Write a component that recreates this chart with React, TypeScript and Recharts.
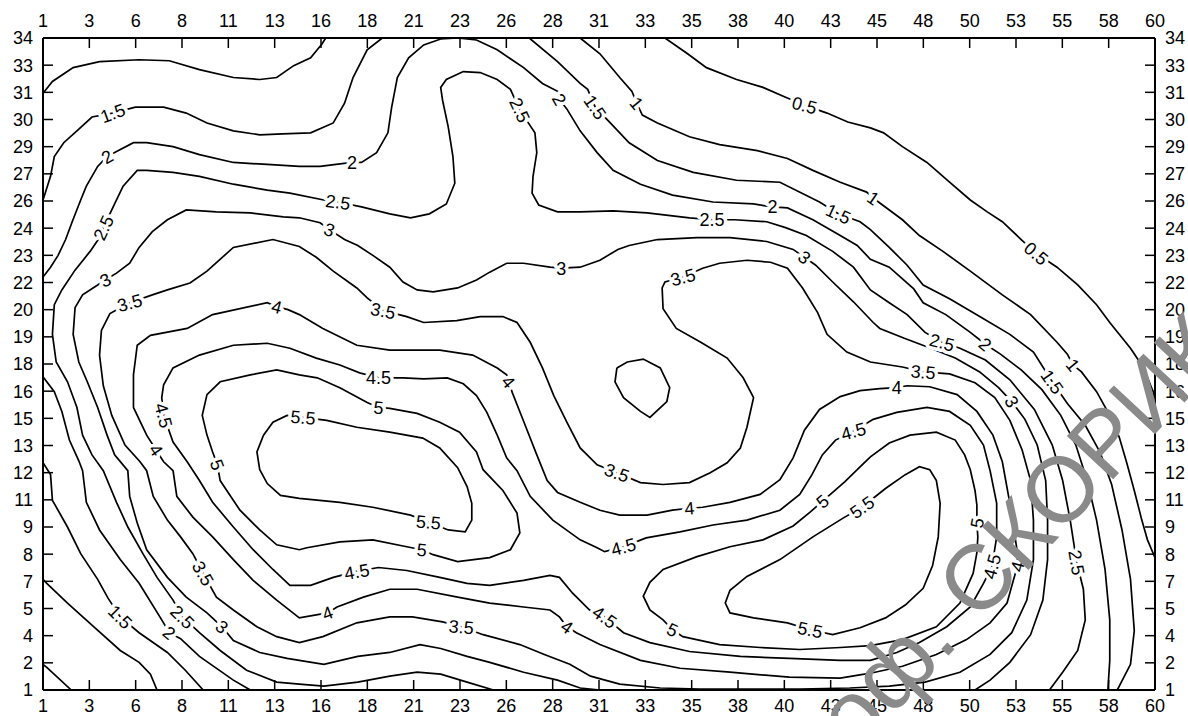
import { ScatterChart, Scatter, XAxis, YAxis } from 'recharts';

type P = [number, number];

// axis tick labels (25 evenly spaced ticks on each axis, rounded values)
const xTickLabels = ['1', '3', '6', '8', '11', '13', '16', '18', '21', '23', '26', '28', '31', '33', '35', '38', '40', '43', '45', '48', '50', '53', '55', '58', '60'];
const yTickLabels = ['1', '2', '4', '5', '7', '8', '9', '11', '12', '13', '15', '16', '18', '19', '20', '22', '23', '24', '26', '27', '29', '30', '31', '33', '34'];

// contour lines as (x, y) points
const c05Top: P[] = [[34.0, 34], [35.2, 33.2], [36.2, 32.5], [37.8, 31.9], [39.2, 31.5], [40.4, 31.0], [41.4, 30.6], [42.6, 30.2], [43.7, 29.75], [44.9, 29.45], [45.6, 29.2], [46.6, 28.5], [47.9, 27.7], [49.1, 26.7], [50.2, 25.8], [51.1, 25.2], [51.9, 24.7], [52.9, 23.8], [53.7, 23.1], [54.8, 22.4], [55.9, 21.5], [56.9, 20.5], [57.6, 19.6], [58.7, 18.3], [59.4, 17.3], [59.9, 16.1], [60, 15.4]];
const c05Corner: P[] = [[1, 2.3], [1.2, 2.15], [2.5, 1]];

const c1TopLeft: P[] = [[1, 31.2], [1.5, 31.8], [2.6, 32.5], [4.0, 32.8], [6.1, 32.9], [7.7, 32.85], [9.3, 32.4], [11.1, 32.0], [12.5, 31.9], [13.4, 32.0], [14.3, 32.6], [15.2, 33.0], [15.8, 33.7], [16.0, 34]];
const c1Right: P[] = [[29.5, 34], [30.55, 33.2], [31.6, 32.0], [32.25, 31.3], [32.5, 30.7], [32.8, 30.1], [33.6, 29.7], [35.3, 29.0], [36.9, 28.6], [38.9, 28.3], [40.5, 27.9], [41.85, 27.3], [43.3, 26.7], [44.7, 26.2], [45.05, 25.9], [45.4, 25.65], [46.6, 24.8], [47.5, 24.0], [48.75, 23.2], [50.2, 22.2], [51.9, 21.0], [53.4, 20.0], [54.8, 18.6], [55.35, 18.0], [55.65, 17.45], [56.1, 17.1], [56.9, 16.1], [57.6, 14.9], [58.1, 13.8], [58.5, 12.5], [58.9, 11.1], [59.3, 9.6], [59.6, 8.6], [60, 7.7]];
const c1BottomLeft: P[] = [[1, 6.6], [1.2, 6.4], [2.3, 5.4], [3.7, 4.2], [5.1, 3.0], [6.1, 2.4], [6.7, 1.8], [7.05, 1]];

const c15TopLeft: P[] = [[1, 25.8], [1.4, 27.0], [1.6, 28.0], [2.1, 28.7], [2.8, 29.3], [3.6, 30.0], [4.7, 30.2], [5.9, 30.5], [7.4, 30.5], [8.6, 30.2], [9.7, 29.7], [11.1, 29.3], [12.5, 29.1], [13.7, 29.15], [15.2, 29.2], [16.4, 29.7], [17.0, 30.7], [17.45, 32.0], [18.2, 33.4], [19.0, 34]];
const c15Right: P[] = [[26.8, 34], [28.3, 32.8], [29.5, 31.7], [29.9, 31.4], [30.3, 30.5], [31.2, 29.6], [32.1, 28.7], [33.6, 27.8], [35.5, 27.2], [37.8, 26.8], [40.1, 26.7], [42.2, 25.7], [43.2, 25.1], [44.35, 24.7], [44.9, 24.3], [45.9, 23.4], [46.85, 22.5], [47.7, 21.5], [49.1, 20.8], [50.7, 19.9], [52.3, 19.0], [53.55, 18.1], [54.55, 16.6], [55.35, 15.5], [56.3, 14.4], [57.1, 13.0], [57.7, 11.4], [58.25, 9.1], [58.7, 6.6], [58.9, 4.0], [58.7, 2.3], [58.0, 1]];
const c15BottomLeft: P[] = [[1, 12.5], [1.4, 11.9], [1.5, 10.6], [2.3, 9.25], [3.0, 7.9], [3.9, 6.6], [4.45, 5.65], [5.1, 4.7], [6.1, 3.9], [7.6, 2.9], [8.55, 2.0], [9.5, 1]];

const c2Main: P[] = [[1, 21.9], [1.4, 22.4], [1.8, 23.0], [2.2, 23.8], [2.55, 24.7], [3.0, 25.8], [3.3, 26.5], [3.9, 27.5], [4.4, 28.0], [4.8, 28.2], [5.8, 28.7], [6.5, 28.7], [7.9, 28.5], [9.3, 28.1], [11.1, 27.7], [12.9, 27.6], [14.6, 27.5], [15.7, 27.5], [17.4, 27.7], [17.9, 27.7], [18.7, 28.2], [19.3, 29.2], [19.5, 30.5], [19.8, 32.0], [20.4, 33.0], [21.2, 33.65], [22.1, 33.95], [23.0, 34], [24.0, 33.9], [25.1, 33.4], [26.5, 32.5], [27.5, 31.7], [28.3, 31.3], [28.4, 30.9], [28.8, 30.4], [29.5, 29.3], [30.4, 28.2], [31.25, 27.3], [32.7, 26.6], [34.4, 26.05], [36.55, 25.7], [38.7, 25.6], [39.7, 25.45], [40.5, 25.4], [41.85, 24.8], [43.3, 24.0], [44.2, 23.5], [44.9, 22.8], [45.9, 22.4], [47.2, 21.3], [47.7, 20.6], [48.9, 20.0], [50.2, 19.1], [51.0, 18.5], [51.8, 18.0], [52.9, 17.2], [54.0, 16.2], [55.0, 14.9], [55.8, 13.4], [56.4, 11.6], [56.9, 9.6], [57.35, 7.1], [57.6, 4.55], [57.6, 2.5], [57.5, 1]];
const c2BottomLeft: P[] = [[1, 16.85], [1.6, 16.1], [2.0, 15.1], [2.4, 13.65], [2.9, 12.6], [3.1, 12.1], [3.3, 10.5], [4.0, 9.1], [5.1, 7.6], [6.1, 6.4], [7.3, 4.55], [7.7, 3.9], [8.3, 3.6], [9.3, 2.7], [11.1, 1.5], [12.0, 1]];

const c25Main: P[] = [[24.9, 1], [23.5, 1.4], [22.1, 1.8], [20.85, 1.9], [19.4, 1.7], [17.7, 1.4], [15.9, 1.2], [14.6, 1.3], [13.4, 1.4], [11.8, 2.0], [10.4, 3.0], [9.3, 3.9], [8.4, 4.7], [7.9, 5.55], [7.05, 6.7], [6.3, 7.9], [5.5, 9.25], [4.9, 10.5], [4.2, 12.1], [3.6, 12.9], [3.1, 13.9], [2.8, 15.3], [2.3, 16.6], [1.7, 17.6], [1.5, 19.0], [1.6, 20.5], [2.0, 21.25], [2.7, 22.25], [3.5, 23.2], [4.0, 23.9], [4.2, 24.4], [4.8, 25.6], [5.25, 26.5], [6.0, 27.3], [6.5, 27.3], [7.9, 27.2], [9.3, 27.0], [11.1, 26.6], [12.9, 26.3], [14.1, 26.15], [15.9, 25.8], [16.65, 25.7], [17.9, 25.45], [19.4, 25.1], [20.5, 24.9], [21.5, 25.1], [22.4, 25.6], [22.85, 26.65], [22.75, 28.0], [22.5, 29.5], [22.2, 30.85], [22.1, 31.5], [22.4, 31.9], [23.3, 32.3], [24.2, 32.25], [25.1, 31.9], [25.8, 31.4], [26.3, 30.35], [27.1, 29.2], [27.2, 28.2], [27.0, 27.0], [26.95, 26.15], [27.3, 25.55], [28.3, 25.2], [29.5, 25.2], [31.25, 25.25], [33.05, 25.15], [35.3, 24.9], [36.5, 24.8], [37.7, 24.8], [39.4, 24.7], [40.4, 24.4], [41.5, 24.0], [42.9, 23.2], [44.0, 22.4], [44.9, 21.25], [45.9, 20.6], [46.85, 20.0], [47.8, 19.1], [48.7, 18.6], [49.65, 18.3], [51.0, 17.7], [52.3, 16.7], [53.6, 15.2], [54.55, 13.4], [55.1, 11.6], [55.5, 9.6], [55.85, 7.45], [56.2, 6.1], [56.3, 4.55], [55.9, 3.0], [55.1, 1.9], [54.4, 1]];

const c3Main: P[] = [[30.55, 1], [29.5, 1.1], [28.3, 1.5], [26.5, 1.9], [24.7, 2.4], [23.5, 2.7], [22.1, 3.1], [21.0, 3.3], [19.4, 2.9], [17.7, 2.7], [15.9, 2.3], [14.6, 2.5], [13.95, 2.6], [12.5, 2.9], [11.1, 3.5], [10.5, 4.2], [9.7, 4.9], [8.6, 5.7], [7.6, 6.7], [6.5, 8.1], [6.0, 9.45], [5.6, 10.8], [5.5, 12.1], [4.8, 12.9], [4.4, 13.9], [3.9, 15.3], [3.35, 16.6], [2.9, 17.6], [2.6, 19.0], [2.7, 20.35], [3.1, 21.0], [3.9, 21.5], [4.3, 21.75], [4.9, 22.1], [5.6, 22.6], [6.1, 23.4], [6.8, 24.2], [7.6, 24.8], [8.6, 25.3], [10.2, 25.2], [12.0, 25.15], [13.75, 24.95], [14.6, 24.9], [15.7, 24.65], [16.2, 24.3], [17.0, 23.8], [17.7, 23.5], [18.5, 23.0], [19.4, 22.4], [20.1, 21.65], [20.85, 21.25], [21.7, 21.15], [23.0, 21.35], [24.0, 21.75], [24.7, 22.15], [25.6, 22.6], [26.5, 22.6], [27.9, 22.4], [28.5, 22.35], [29.5, 22.4], [30.55, 22.75], [31.5, 23.3], [32.1, 23.5], [33.6, 23.8], [35.7, 23.9], [37.45, 23.9], [39.4, 23.7], [40.8, 23.3], [41.4, 22.9], [42.0, 22.5], [42.9, 21.65], [44.0, 20.65], [45.05, 19.6], [45.4, 19.3], [46.7, 18.8], [48.1, 18.3], [49.4, 17.8], [50.7, 17.1], [51.7, 16.3], [52.4, 15.6], [53.1, 14.7], [53.75, 13.4], [54.2, 11.6], [54.3, 9.6], [54.3, 7.6], [54.05, 5.55], [53.4, 3.8], [52.3, 2.4], [51.25, 1.5], [50.45, 1]];

const c35Loop: P[] = [[5.6, 20.6], [6.8, 21.0], [7.6, 21.25], [8.8, 21.6], [9.7, 22.2], [11.1, 23.4], [13.2, 23.8], [14.6, 23.45], [15.5, 22.9], [16.4, 22.2], [17.65, 21.35], [18.2, 20.85], [19.05, 20.2], [20.3, 19.9], [21.2, 19.6], [22.95, 19.7], [24.2, 19.9], [25.4, 19.9], [26.15, 19.6], [26.85, 18.6], [27.5, 17.3], [28.1, 15.9], [28.8, 14.55], [29.5, 13.25], [30.4, 12.4], [31.45, 12.0], [32.7, 11.5], [33.9, 11.4], [35.3, 11.5], [36.4, 12.0], [37.3, 12.5], [38.0, 13.25], [38.35, 14.3], [38.7, 15.8], [38.15, 16.8], [37.3, 17.8], [35.9, 18.6], [34.6, 19.3], [33.9, 20.3], [33.85, 21.35], [34.0, 21.65], [34.95, 21.9], [36.0, 22.35], [36.9, 22.6], [38.35, 22.75], [39.6, 22.65], [40.5, 22.35], [41.3, 21.35], [42.1, 20.1], [42.6, 19.0], [43.65, 18.1], [44.9, 17.6], [46.6, 17.35], [47.7, 17.1], [49.1, 17.0], [50.45, 16.55], [51.5, 15.8], [52.3, 14.65], [52.95, 13.15], [53.4, 11.6], [53.55, 9.6], [53.55, 7.6], [53.2, 5.55], [52.4, 3.9], [51.25, 2.8], [49.65, 1.9], [47.8, 1.4], [45.9, 1.2], [43.8, 1.1], [41.15, 1.05], [38.5, 1.05], [35.85, 1.05], [33.75, 1.1], [31.6, 1.3], [30.05, 1.7], [28.95, 2.3], [27.6, 2.8], [26.3, 3.3], [24.35, 3.8], [23.2, 4.2], [22.2, 4.45], [20.6, 4.7], [19.4, 4.7], [17.65, 4.4], [15.85, 3.7], [14.6, 3.4], [13.4, 3.7], [12.35, 4.2], [11.1, 5.05], [10.2, 5.7], [9.5, 6.9], [8.95, 7.9], [8.3, 8.75], [7.6, 9.6], [6.85, 10.8], [6.5, 12.1], [6.15, 12.55], [5.35, 13.4], [4.65, 14.9], [4.2, 16.4], [4.0, 17.95], [4.1, 19.2], [4.55, 20.05], [5.6, 20.6]];

const c4Loop: P[] = [[13.4, 20.4], [14.0, 20.25], [14.6, 20.0], [15.85, 19.3], [17.65, 18.45], [19.4, 18.2], [22.05, 18.2], [23.8, 17.95], [25.1, 17.3], [25.6, 16.95], [25.7, 16.6], [25.9, 16.05], [26.5, 14.6], [27.2, 12.9], [27.75, 11.6], [28.3, 11.0], [29.5, 10.5], [30.55, 10.1], [31.6, 9.85], [33.05, 9.85], [34.4, 10.1], [35.3, 10.2], [36.0, 10.25], [37.45, 10.5], [39.05, 10.9], [40.1, 11.65], [40.8, 12.75], [41.4, 14.15], [42.2, 15.2], [43.3, 15.85], [44.35, 16.15], [45.4, 16.25], [46.3, 16.3], [46.85, 16.4], [48.05, 16.35], [49.5, 15.95], [50.55, 15.1], [51.4, 13.9], [51.9, 12.55], [52.3, 10.45], [52.7, 7.95], [52.7, 7.25], [52.5, 6.6], [52.15, 5.4], [51.25, 4.4], [50.0, 3.55], [48.4, 2.8], [46.6, 2.2], [44.9, 1.85], [43.3, 1.6], [40.6, 1.65], [37.45, 1.9], [34.8, 2.1], [32.7, 2.5], [30.55, 3.3], [29.3, 3.9], [28.8, 4.2], [28.4, 4.7], [27.9, 5.05], [26.5, 5.2], [24.7, 5.4], [23.0, 5.7], [20.85, 6.1], [19.4, 6.1], [18.0, 5.7], [16.6, 5.2], [16.1, 4.9], [14.6, 4.65], [13.4, 5.55], [12.15, 6.55], [11.1, 7.6], [10.0, 8.75], [8.95, 9.75], [8.1, 10.8], [7.9, 12.1], [7.4, 12.55], [7.0, 13.15], [6.5, 13.9], [5.8, 15.3], [5.8, 16.95], [6.0, 18.45], [6.7, 18.95], [8.65, 19.3], [10.0, 20.0], [12.9, 20.6], [13.4, 20.4]];

const c45Loop: P[] = [[7.4, 14.9], [7.9, 13.55], [8.65, 12.55], [9.3, 11.6], [10.0, 10.5], [11.1, 9.25], [12.15, 8.1], [13.2, 7.1], [14.1, 6.3], [15.2, 6.3], [16.4, 6.7], [17.65, 7.0], [18.8, 7.2], [20.3, 7.05], [22.05, 6.7], [23.5, 6.4], [24.7, 6.3], [26.5, 6.55], [27.9, 6.8], [28.4, 6.7], [29.1, 5.9], [30.0, 5.05], [30.8, 4.7], [31.8, 3.9], [33.2, 3.4], [35.3, 2.95], [38.0, 2.7], [40.6, 2.6], [43.3, 2.5], [44.9, 2.5], [46.3, 2.9], [47.5, 3.4], [48.95, 4.2], [50.2, 5.2], [50.9, 6.4], [51.35, 7.25], [51.6, 8.75], [51.6, 10.45], [51.25, 12.1], [50.9, 13.4], [50.2, 14.4], [49.1, 15.1], [47.9, 15.3], [46.3, 15.05], [45.05, 14.7], [44.0, 14.1], [43.05, 13.65], [42.35, 12.9], [41.8, 11.9], [41.15, 10.9], [40.1, 10.1], [38.35, 9.6], [36.55, 9.35], [34.8, 9.0], [33.0, 8.7], [31.8, 8.25], [30.8, 8.0], [30.4, 8.2], [29.5, 8.6], [28.05, 9.6], [26.85, 10.8], [26.15, 12.1], [25.6, 12.75], [25.1, 13.9], [24.55, 15.05], [24.0, 15.9], [23.3, 16.5], [22.45, 16.8], [21.2, 16.75], [20.1, 16.8], [18.8, 16.8], [17.8, 17.05], [16.75, 17.45], [15.5, 17.8], [14.1, 18.3], [12.9, 18.55], [11.1, 18.45], [9.3, 17.95], [7.9, 17.3], [7.4, 16.45], [7.3, 15.8], [7.4, 14.9]];

const c5Left: P[] = [[10.25, 12.4], [10.4, 11.6], [10.75, 11.1], [11.45, 10.1], [12.5, 9.1], [13.4, 8.35], [14.6, 8.1], [15.0, 8.2], [16.75, 8.5], [18.5, 8.6], [20.3, 8.25], [21.1, 8.1], [21.7, 7.85], [23.0, 7.5], [24.7, 7.7], [25.8, 8.1], [26.3, 8.95], [26.15, 9.95], [25.4, 11.1], [24.35, 12.15], [24.0, 13.05], [23.1, 14.05], [22.05, 14.55], [20.85, 15.0], [19.4, 15.25], [18.8, 15.3], [18.2, 15.55], [16.75, 16.3], [15.55, 16.8], [14.6, 16.95], [13.4, 17.2], [12.0, 16.95], [10.4, 16.6], [9.7, 15.95], [9.45, 14.9], [9.7, 13.9], [10.0, 13.05], [10.25, 12.4]];
const c55Left: P[] = [[14.8, 14.8], [16.05, 14.65], [17.65, 14.3], [19.4, 14.05], [21.15, 13.75], [22.05, 13.25], [23.0, 12.25], [23.5, 11.3], [23.75, 10.45], [23.75, 9.6], [23.4, 9.0], [22.5, 9.1], [21.45, 9.5], [20.5, 9.85], [18.5, 10.25], [16.75, 10.5], [14.6, 10.7], [13.6, 10.85], [12.9, 11.45], [12.5, 12.15], [12.35, 13.05], [12.7, 13.9], [13.2, 14.55], [13.95, 14.9], [14.8, 14.8]];

const c5Right: P[] = [[34.4, 4.05], [34.95, 3.7], [36.9, 3.3], [39.05, 3.15], [41.15, 3.05], [43.3, 3.15], [44.9, 3.25], [46.6, 3.55], [48.4, 4.2], [49.65, 5.4], [50.35, 6.9], [50.55, 7.95], [50.6, 8.75], [50.55, 9.45], [50.55, 10.35], [50.45, 11.1], [50.2, 12.15], [49.9, 12.9], [49.4, 13.65], [48.4, 14.05], [47.0, 13.9], [45.9, 13.5], [44.9, 12.8], [44.2, 12.15], [43.55, 11.55], [42.35, 10.55], [41.7, 10.0], [40.8, 9.3], [39.2, 8.6], [37.45, 8.25], [35.7, 7.75], [33.9, 7.1], [33.2, 6.45], [32.85, 5.75], [33.2, 5.05], [33.9, 4.55], [34.4, 4.05]];
const c55Right: P[] = [[41.7, 4.05], [42.9, 3.8], [44.35, 4.15], [45.7, 4.65], [46.75, 5.3], [47.7, 6.15], [48.2, 7.3], [48.5, 8.75], [48.6, 10.45], [48.4, 11.6], [48.05, 12.15], [47.5, 12.3], [46.75, 11.9], [45.7, 11.2], [44.45, 10.25], [43.45, 9.7], [41.85, 8.75], [40.1, 7.6], [38.35, 6.75], [37.45, 6.05], [37.2, 5.4], [37.45, 4.9], [38.7, 4.65], [40.5, 4.4], [41.7, 4.05]];

const cSmallLoop: P[] = [[31.45, 17.3], [32.0, 17.6], [32.85, 17.75], [33.75, 17.3], [34.25, 16.3], [34.1, 15.6], [33.2, 14.8], [32.7, 15.1], [31.8, 15.8], [31.35, 16.6], [31.45, 17.3]];

const contourLines: P[][] = [c05Top, c05Corner, c1TopLeft, c1Right, c1BottomLeft, c15TopLeft, c15Right, c15BottomLeft, c2Main, c2BottomLeft, c25Main, c3Main, c35Loop, c4Loop, c45Loop, c5Left, c55Left, c5Right, c55Right, cSmallLoop];

// inline contour labels: x, y, text
const contourLabels: [number, number, string][] = [
  [4.7, 30.2, '1.5'], [4.4, 28.0, '2'], [4.2, 24.4, '2.5'], [4.3, 21.75, '3'], [5.6, 20.6, '3.5'], [13.4, 20.4, '4'], [7.4, 14.9, '4.5'], [7.0, 13.15, '4'], [10.25, 12.4, '5'], [14.8, 14.8, '5.5'],
  [17.4, 27.7, '2'], [16.65, 25.7, '2.5'], [16.2, 24.3, '3'], [19.05, 20.2, '3.5'], [18.8, 16.8, '4.5'], [18.8, 15.3, '5'], [25.7, 16.6, '4'], [28.5, 22.35, '3'], [26.3, 30.35, '2.5'], [28.4, 30.9, '2'],
  [30.3, 30.5, '1.5'], [32.5, 30.7, '1'], [41.4, 30.6, '0.5'], [39.7, 25.45, '2'], [36.5, 24.8, '2.5'], [43.2, 25.1, '1.5'], [45.05, 25.9, '1'], [41.4, 22.9, '3'], [34.95, 21.9, '3.5'], [31.45, 12.0, '3.5'],
  [53.7, 23.1, '0.5'], [48.7, 18.6, '2.5'], [51.0, 18.5, '2'], [55.65, 17.45, '1'], [54.55, 16.6, '1.5'], [47.7, 17.1, '3.5'], [46.3, 16.3, '4'], [52.4, 15.6, '3'], [44.0, 14.1, '4.5'], [42.35, 10.55, '5'],
  [44.45, 10.25, '5.5'], [35.3, 10.2, '4'], [31.8, 8.25, '4.5'], [21.45, 9.5, '5.5'], [21.1, 8.1, '5'], [17.65, 7.0, '4.5'], [16.1, 4.9, '4'], [23.2, 4.2, '3.5'], [28.8, 4.2, '4'], [30.8, 4.7, '4.5'],
  [34.4, 4.05, '5'], [41.7, 4.05, '5.5'], [9.5, 6.9, '3.5'], [5.1, 4.7, '1.5'], [7.7, 3.9, '2'], [8.4, 4.7, '2.5'], [10.5, 4.2, '3'], [50.55, 9.45, '5'], [51.35, 7.25, '4.5'], [52.7, 7.25, '4'],
  [55.85, 7.45, '2.5'],
];
const labelAngles = [
  -20, -30, -65, -25, -15, 15, 75, 55, 70, 5,
  0, 8, 20, 12, 0, 5, 50, 0, 65, 60,
  55, 50, 15, 0, 0, 25, 35, 40, -15, 20,
  40, 15, 40, 50, 55, 5, 0, 60, -15, -40,
  -35, -5, -15, 5, 5, -10, -20, 5, 35, 35,
  25, 12, 60, 45, 40, 45, 40, -80, -75, -75,
  80,
];

const xTicks = xTickLabels.map((_, i) => 1 + (i * 59) / 24);
const yTicks = yTickLabels.map((_, i) => 1 + (i * 33) / 24);
const fmtX = (v: number) => xTickLabels[Math.round(((v - 1) * 24) / 59)];
const fmtY = (v: number) => yTickLabels[Math.round(((v - 1) * 24) / 33)];

const FONT = '"Liberation Sans", Arial, Helvetica, sans-serif';
const tickStyle = { fill: '#000', fontSize: 18, fontFamily: FONT };
const axisStyle = { stroke: '#000', strokeWidth: 2 };
const tickLineStyle = { stroke: '#000', strokeWidth: 1.5 };

const noDot = () => <g />;

const LabelMark = (props: any) => {
  const { cx, cy, payload } = props;
  if (cx == null || cy == null) return <g />;
  return (
    <text
      x={cx}
      y={cy}
      dy="0.36em"
      textAnchor="middle"
      transform={`rotate(${payload.angle}, ${cx}, ${cy})`}
      style={{ fontFamily: FONT, fontSize: 18 }}
      fill="#000"
      stroke="#fff"
      strokeWidth={7}
      strokeLinejoin="round"
      paintOrder="stroke"
    >
      {payload.text}
    </text>
  );
};

export default function App() {
  const labelData = contourLabels.map(([x, y, text], i) => ({ x, y, text, angle: labelAngles[i] }));

  return (
    <div style={{ position: 'relative', width: 1188, height: 716, background: '#fff', overflow: 'hidden' }}>
      <style>{'html,body{margin:0;padding:0;overflow:hidden;background:#fff}'}</style>
      <ScatterChart width={1188} height={716} margin={{ top: 37, right: 32, bottom: 25, left: 42 }}>
        <XAxis xAxisId="b" type="number" dataKey="x" domain={[1, 60]} allowDataOverflow ticks={xTicks} interval={0}
          orientation="bottom" height={1} tickSize={-10} tickMargin={19} tickFormatter={fmtX}
          tick={tickStyle} axisLine={axisStyle} tickLine={tickLineStyle} />
        <XAxis xAxisId="t" type="number" dataKey="x" domain={[1, 60]} allowDataOverflow ticks={xTicks} interval={0}
          orientation="top" height={1} tickSize={-10} tickMargin={21} tickFormatter={fmtX}
          tick={tickStyle} axisLine={axisStyle} tickLine={tickLineStyle} />
        <YAxis yAxisId="l" type="number" dataKey="y" domain={[1, 34]} allowDataOverflow ticks={yTicks} interval={0}
          orientation="left" width={1} tickSize={-10} tickMargin={20} tickFormatter={fmtY}
          tick={tickStyle} axisLine={axisStyle} tickLine={tickLineStyle} />
        <YAxis yAxisId="r" type="number" dataKey="y" domain={[1, 34]} allowDataOverflow ticks={yTicks} interval={0}
          orientation="right" width={1} tickSize={-10} tickMargin={20} tickFormatter={fmtY}
          tick={tickStyle} axisLine={axisStyle} tickLine={tickLineStyle} />

        {contourLines.map((pts, i) => (
          <Scatter
            key={`c-${i}`}
            xAxisId="b"
            yAxisId="l"
            data={pts.map(([x, y]) => ({ x, y }))}
            line={{ stroke: '#000', strokeWidth: 1.7, fill: 'none' }}
            lineType="joint"
            shape={noDot}
            legendType="none"
            isAnimationActive={false}
          />
        ))}

        <Scatter
          xAxisId="t"
          yAxisId="r"
          data={labelData}
          shape={LabelMark}
          legendType="none"
          isAnimationActive={false}
        />
      </ScatterChart>

      {/* watermark */}
      <svg width={1188} height={716} style={{ position: 'absolute', left: 0, top: 0, pointerEvents: 'none' }}>
        <g transform="translate(978 624) rotate(-47)" fill="#8a8a8a" style={{ fontFamily: FONT, fontSize: 92 }}>
          <text x={0} y={0}>СКОРИК</text>
          <text x={-26} y={0} textAnchor="end">проф.</text>
        </g>
      </svg>
    </div>
  );
}
